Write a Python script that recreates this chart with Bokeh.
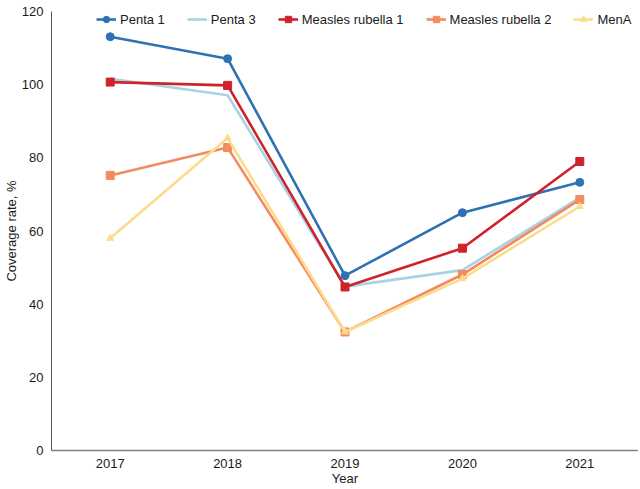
from bokeh.plotting import figure
from bokeh.models import Legend, LegendItem, FixedTicker, Range1d
from bokeh.embed import file_html
from bokeh.resources import INLINE

years = [2017, 2018, 2019, 2020, 2021]
penta1 = [113.1, 107.1, 47.8, 65.0, 73.3]
penta3 = [101.6, 97.1, 44.8, 49.3, 69.1]
measles1 = [100.7, 99.8, 44.7, 55.3, 79.0]
measles2 = [75.2, 82.8, 32.4, 48.1, 68.6]
mena = [58.0, 85.4, 32.4, 47.0, 66.7]
y_ticks = [0, 20, 40, 60, 80, 100, 120]

FONT = "Liberation Sans"

p = figure(frame_width=587, frame_height=439, output_backend="svg", toolbar_location=None,
           x_range=Range1d(2016.5, 2021.5), y_range=Range1d(0, 120),
           min_border_top=11, min_border_left=43, min_border_right=0, min_border_bottom=0)
p.outline_line_color = None
p.xgrid.visible = False
p.ygrid.visible = False

series = [
    ("Penta 1", penta1, "#2e72b3", "circle", 8),
    ("Penta 3", penta3, "#a9d2e6", None, 0),
    ("Measles rubella 1", measles1, "#d0222a", "square", 8),
    ("Measles rubella 2", measles2, "#f48a5f", "square", 8),
    ("MenA", mena, "#fcdc8c", "triangle", 7),
]

items = []
for name, vals, col, marker, size in series:
    rs = [p.line(years, vals, line_color=col, line_width=2.6)]
    if marker:
        rs.append(p.scatter(years, vals, marker=marker, size=size, fill_color=col, line_color=col))
    items.append(LegendItem(label=name, renderers=rs))

legend = Legend(items=items, orientation="horizontal", location=(45, 423),
                background_fill_alpha=0, border_line_color=None, padding=0, margin=0,
                spacing=22, label_standoff=4, glyph_width=20, glyph_height=16, label_height=16,
                label_text_font=FONT, label_text_font_size="13px", label_text_color="#1a1a1a",
                label_text_baseline="middle")
p.add_layout(legend, "center")

p.xaxis.ticker = FixedTicker(ticks=years)
p.yaxis.ticker = FixedTicker(ticks=y_ticks)
for ax in (p.xaxis, p.yaxis):
    ax.major_tick_line_color = None
    ax.minor_tick_line_color = None
    ax.major_tick_out = 0
    ax.major_tick_in = 0
    ax.major_label_text_font = FONT
    ax.major_label_text_font_size = "13px"
    ax.major_label_text_color = "#1a1a1a"
    ax.axis_label_text_font = FONT
    ax.axis_label_text_font_size = "13px"
    ax.axis_label_text_font_style = "normal"
    ax.axis_label_text_color = "#1a1a1a"
    ax.axis_label_standoff = 0
p.xaxis.axis_label = "Year"
p.yaxis.axis_label = "Coverage rate, %"
p.xaxis.axis_line_color = "#808080"
p.xaxis.axis_line_width = 1.5
p.yaxis.axis_line_color = "#555555"
p.yaxis.axis_line_width = 1
p.xaxis.major_label_standoff = 8
p.yaxis.major_label_standoff = 8

open("out.html", "w").write(file_html(p, INLINE))
